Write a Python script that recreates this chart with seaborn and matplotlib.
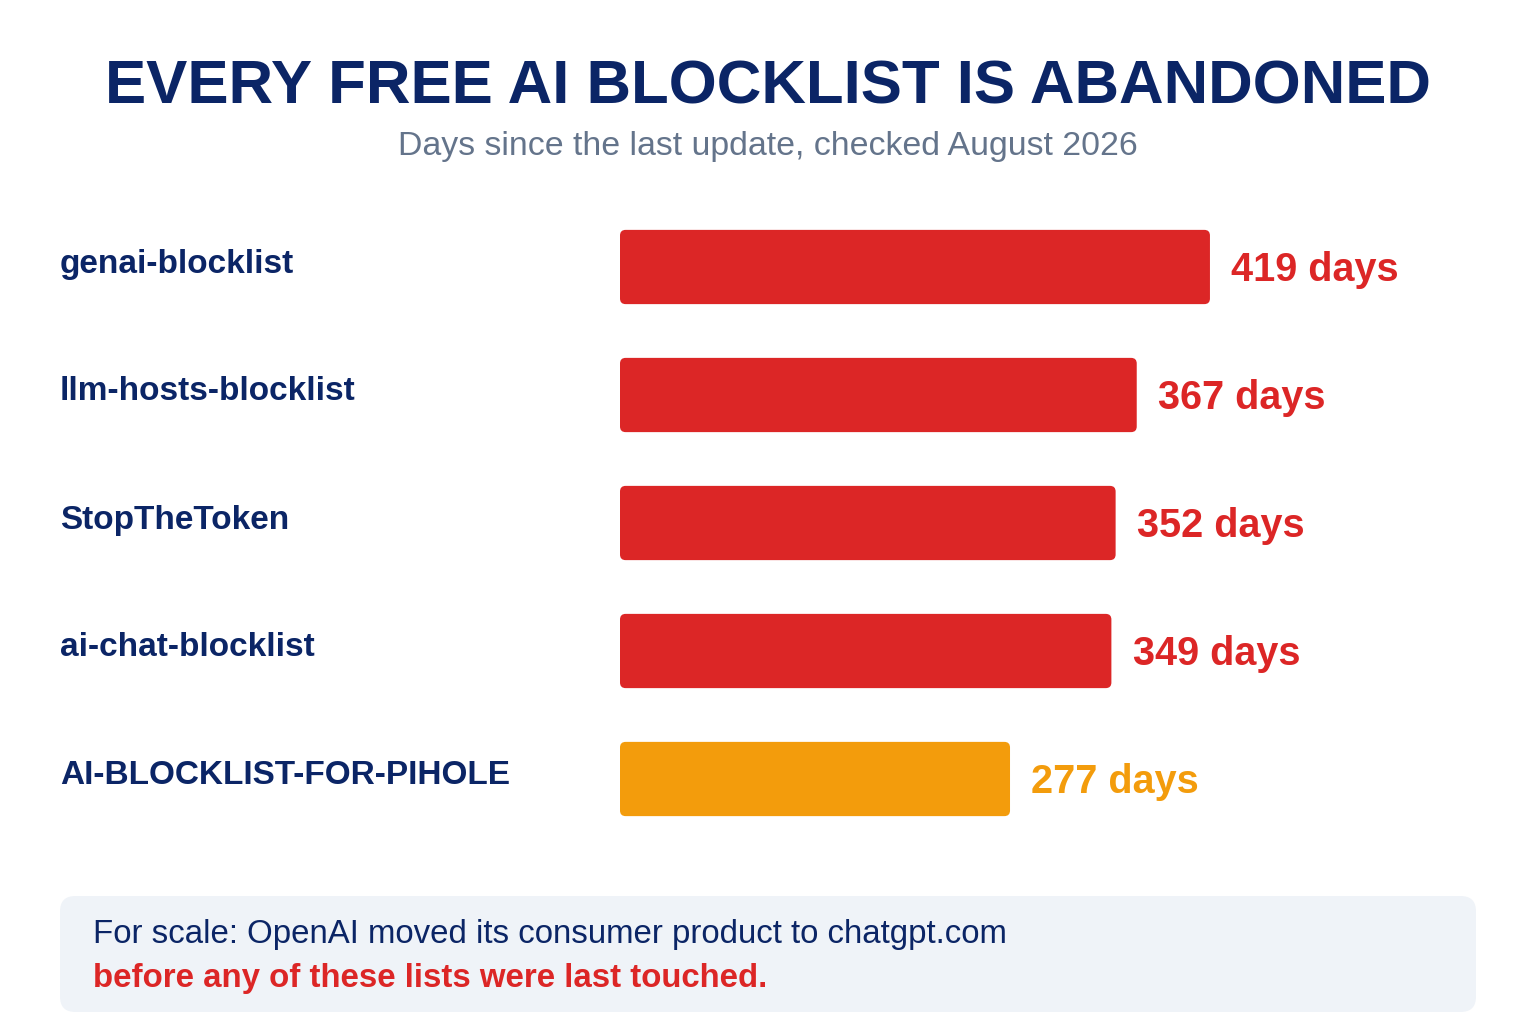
import matplotlib
matplotlib.use("Agg")
import matplotlib.pyplot as plt
import seaborn as sns
import pandas as pd
from matplotlib.patches import FancyBboxPatch

lists = ["genai-blocklist", "llm-hosts-blocklist", "StopTheToken",
         "ai-chat-blocklist", "AI-BLOCKLIST-FOR-PIHOLE"]
days = [419, 367, 352, 349, 277]
bar_colors = ["#dc2626", "#dc2626", "#dc2626", "#dc2626", "#f39c0c"]

NAVY = "#0b2566"
sns.set_theme(style="white")
plt.rcParams['font.family'] = ['Liberation Sans', 'DejaVu Sans']

W, H = 1536, 1024
fig = plt.figure(figsize=(15.36, 10.24), dpi=100)
# axes spanning 620..1476 px horizontally, 203..843 px vertically
ax = fig.add_axes([620 / W, 1 - 843 / H, 856 / W, 640 / H])
df = pd.DataFrame({"list": lists, "days": days})
sns.barplot(data=df, x="days", y="list", hue="list", palette=bar_colors,
            legend=False, width=0.58, ax=ax)
ax.set_xlim(0, 856 / 1.408)
ax.set_ylim(4.5, -0.5)
ax.axis("off")

# swap in rounded bars
px_per_x = 856 / ax.get_xlim()[1]
for p, c in zip(list(ax.patches), bar_colors):
    x0, y0, w, h = p.get_x(), p.get_y(), p.get_width(), p.get_height()
    p.remove()
    ax.add_patch(FancyBboxPatch((x0, y0), w, h,
                                boxstyle="round,pad=0,rounding_size=4",
                                mutation_aspect=px_per_x / 128,
                                facecolor=c, edgecolor="none"))

for i, (name, d, c) in enumerate(zip(lists, days, bar_colors)):
    ax.text(d + 15, i + 0.02, f"{d} days", color=c, fontsize=28.5,
            fontweight="bold", va="center", ha="left")
    fig.text(60 / W, 1 - (264 + 128 * i) / H, name, color=NAVY,
             fontsize=24, fontweight="bold", va="center", ha="left")

fig.text(0.5, 1 - 88 / H, "EVERY FREE AI BLOCKLIST IS ABANDONED", color=NAVY,
         fontsize=44.5, fontweight="bold", ha="center", va="center")
fig.text(0.5, 1 - 146 / H, "Days since the last update, checked August 2026",
         color="#64748b", fontsize=24.4, ha="center", va="center")

box = FancyBboxPatch((60 / W, 1 - 1012 / H), 1416 / W, 116 / H,
                     boxstyle="round,pad=0,rounding_size=0.01",
                     mutation_aspect=W / H,
                     transform=fig.transFigure, facecolor="#eff3f8",
                     edgecolor="none")
fig.patches.append(box)
fig.text(93 / W, 1 - 935 / H, "For scale: OpenAI moved its consumer product to chatgpt.com",
         color=NAVY, fontsize=23.8, va="center", ha="left")
fig.text(93 / W, 1 - 978 / H, "before any of these lists were last touched.",
         color="#dc2626", fontsize=23.8, fontweight="bold", va="center", ha="left")

fig.savefig("out.png", dpi=100, facecolor="white")
